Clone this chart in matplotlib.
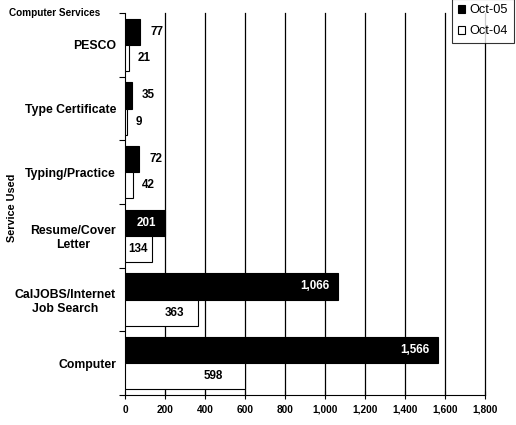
import matplotlib
matplotlib.use("Agg")
import matplotlib.pyplot as plt
import numpy as np

categories = ["Computer", "CalJOBS/Internet\nJob Search", "Resume/Cover\nLetter",
              "Typing/Practice", "Type Certificate", "PESCO"]
oct05 = [1566, 1066, 201, 72, 35, 77]
oct04 = [598, 363, 134, 42, 9, 21]
xticks = [0, 200, 400, 600, 800, 1000, 1200, 1400, 1600, 1800]
xticklabels = ["0", "200", "400", "600", "800", "1,000", "1,200", "1,400", "1,600", "1,800"]

plt.rcParams['font.family'] = ['Liberation Sans', 'DejaVu Sans']
plt.rcParams['font.weight'] = 'bold'

fig = plt.figure(figsize=(5.16, 4.25), dpi=100)
ax = fig.add_axes([125/516, 1 - 395/425, 360/516, 382/425])

y = np.arange(len(categories))
h = 0.41
b1 = ax.barh(y + h/2, oct05, height=h, color='black', edgecolor='black', linewidth=0.8, label='Oct-05', zorder=3)
b2 = ax.barh(y - h/2, oct04, height=h, color='white', edgecolor='black', linewidth=0.8, label='Oct-04', zorder=3)

ax.set_xlim(0, 1800)
ax.set_ylim(-0.5, len(categories) - 0.5)
ax.set_xticks(xticks)
ax.set_xticklabels(xticklabels, fontsize=7.3, fontweight='bold')
ax.set_yticks(y)
ax.set_yticklabels(categories, fontsize=8.8, fontweight='bold', ha='right', multialignment='center')
ax.tick_params(axis='y', length=0, pad=6.5)
ax.set_yticks(np.arange(-0.5, len(categories), 1), minor=True)
ax.tick_params(axis='y', which='minor', length=4, direction='out', width=0.8)
ax.tick_params(axis='x', direction='inout', length=6, width=0.8, pad=4)

for xv in xticks[1:]:
    ax.axvline(xv, color='black', linewidth=0.9, zorder=1, clip_on=False)

for s in ['top', 'right']:
    ax.spines[s].set_visible(False)
ax.spines['left'].set_linewidth(0.8)
ax.spines['bottom'].set_linewidth(0.8)

def fmt(v):
    return f"{v:,}"

lfs = 8.4
for yi, v in zip(y, oct05):
    if v > 150:
        ax.text(v - 45, yi + h/2, fmt(v), color='white', ha='right', va='center', fontsize=lfs, fontweight='bold', zorder=4)
    else:
        ax.text(v + 50, yi + h/2, fmt(v), color='black', ha='left', va='center', fontsize=lfs, fontweight='bold', zorder=4)

for yi, v in zip(y, oct04):
    if v > 100:
        ax.text(v - (20 + 0.195 * (v - 134)), yi - h/2, fmt(v), color='black', ha='right', va='center', fontsize=lfs, fontweight='bold', zorder=4)
    else:
        ax.text(v + 42, yi - h/2, fmt(v), color='black', ha='left', va='center', fontsize=lfs, fontweight='bold', zorder=4)

fig.text(9/516, 1 - 13/425, "Computer Services", fontsize=7.2, fontweight='bold', va='center', ha='left')
fig.text(12/516, 1 - 208/425, "Service Used", fontsize=7.8, fontweight='bold', rotation=90, va='center', ha='center')

leg = fig.legend(handles=[b1, b2], labels=['Oct-05', 'Oct-04'], loc='lower left',
                 bbox_to_anchor=(452/516, 1 - 43/425), frameon=True, fancybox=False,
                 edgecolor='black', handlelength=0.6, handleheight=0.6, handletextpad=0.3,
                 borderpad=0.45, labelspacing=0.7, borderaxespad=0,
                 prop={'weight': 'normal', 'size': 9.2})
leg.get_frame().set_linewidth(0.8)

fig.savefig("out.png", dpi=100)
